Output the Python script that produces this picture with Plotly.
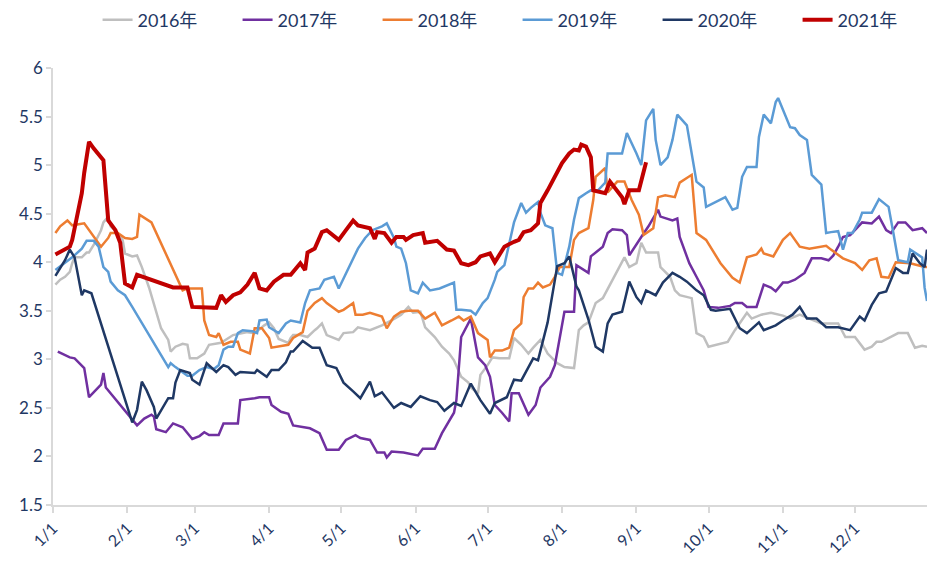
import pandas as pd
import plotly.graph_objects as go

# 日期以当年第几天表示（0 = 1/1）
d2016 = [1, 3, 5, 7, 8, 9, 12, 14, 15, 17, 20, 21, 23, 24, 27, 29, 30, 33, 35, 37, 40, 43, 45, 48, 49, 51, 54, 56, 57, 60,
         63, 65, 70, 75, 81, 84, 88, 90, 92, 94, 98, 99, 100, 103, 106, 109, 110, 112, 114, 119, 121, 125, 127, 132, 137, 141, 145, 148, 150, 153,
         155, 159, 162, 165, 167, 170, 173, 174, 177, 178, 181, 183, 186, 190, 192, 195, 198, 200, 203, 206, 210, 213, 217, 219, 221, 223, 226, 229, 233, 235,
         238, 240, 243, 245, 247, 252, 253, 257, 259, 261, 266, 268, 271, 273, 281, 284, 289, 291, 295, 299, 304, 307, 311, 315, 320, 327, 330, 334, 338, 341,
         343, 345, 349, 352, 356, 359, 362, 364]
v2016 = [3.77, 3.82, 3.85, 3.9, 3.99, 4.05, 4.05, 4.1, 4.1, 4.18, 4.33, 4.41, 4.47, 4.37, 4.3, 4.23, 4.09, 4.06, 4.07, 3.95, 3.74, 3.5, 3.32, 3.2, 3.08, 3.13, 3.16, 3.15, 3.01, 3.01,
         3.06, 3.15, 3.17, 3.25, 3.28, 3.27, 3.35, 3.38, 3.32, 3.21, 3.17, 3.22, 3.25, 3.25, 3.23, 3.3, 3.32, 3.37, 3.25, 3.2, 3.27, 3.28, 3.33, 3.3, 3.35, 3.4, 3.46, 3.54, 3.48, 3.49,
         3.33, 3.23, 3.13, 3.06, 2.99, 2.82, 2.76, 2.71, 2.65, 2.84, 2.94, 3.02, 3.01, 3.01, 3.22, 3.15, 3.06, 3.12, 3.2, 3.06, 2.96, 2.92, 2.91, 3.3, 3.35, 3.38, 3.58, 3.63, 3.82, 3.92,
         4.05, 3.95, 3.99, 4.2, 4.1, 4.1, 3.95, 3.85, 3.71, 3.66, 3.63, 3.27, 3.23, 3.13, 3.18, 3.3, 3.48, 3.42, 3.46, 3.48, 3.45, 3.42, 3.46, 3.42, 3.37, 3.37, 3.23, 3.23, 3.1, 3.13,
         3.18, 3.18, 3.23, 3.27, 3.27, 3.12, 3.14, 3.13]

d2017 = [2, 7, 9, 13, 15, 20, 21, 22, 35, 38, 41, 42, 43, 47, 50, 54, 58, 61, 63, 65, 69, 71, 77, 78, 84, 86, 90, 91, 95, 98,
         100, 104, 107, 111, 114, 119, 122, 126, 128, 132, 135, 138, 139, 141, 146, 152, 154, 159, 162, 167, 168, 170, 174, 177, 180, 182, 184, 187, 190, 191,
         194, 198, 201, 203, 207, 209, 213, 217, 218, 223, 224, 229, 231, 233, 237, 239, 240, 245, 248, 252, 253, 258, 260, 261, 265, 268, 271, 273, 277, 282,
         284, 287, 289, 293, 296, 299, 301, 304, 306, 309, 313, 316, 320, 323, 325, 327, 329, 332, 337, 341, 344, 347, 349, 352, 355, 358, 362, 364]
v2017 = [3.08, 3.02, 3.01, 2.91, 2.61, 2.74, 2.86, 2.71, 2.32, 2.39, 2.43, 2.41, 2.28, 2.25, 2.34, 2.3, 2.18, 2.21, 2.25, 2.22, 2.22, 2.34, 2.34, 2.58, 2.6, 2.61, 2.61, 2.53, 2.46, 2.44,
         2.32, 2.3, 2.29, 2.24, 2.07, 2.07, 2.17, 2.22, 2.19, 2.17, 2.04, 2.04, 1.99, 2.05, 2.04, 2.01, 2.08, 2.08, 2.24, 2.45, 2.58, 3.23, 3.42, 3.02, 2.94, 2.82, 2.53, 2.45, 2.36, 2.65,
         2.65, 2.43, 2.53, 2.71, 2.82, 2.94, 3.49, 3.49, 3.97, 3.89, 4.06, 4.16, 4.3, 4.34, 4.33, 4.28, 4.07, 4.26, 4.37, 4.54, 4.47, 4.43, 4.45, 4.26, 3.99, 3.85, 3.71, 3.54, 3.53, 3.55,
         3.58, 3.58, 3.54, 3.54, 3.77, 3.74, 3.7, 3.79, 3.79, 3.82, 3.89, 4.04, 4.04, 4.02, 4.07, 4.16, 4.26, 4.28, 4.41, 4.4, 4.47, 4.33, 4.3, 4.41, 4.41, 4.33, 4.35, 4.3]

d2018 = [1, 3, 6, 8, 13, 15, 20, 23, 24, 27, 30, 33, 35, 36, 41, 54, 56, 62, 63, 65, 68, 69, 71, 74, 77, 78, 82, 84, 87, 90,
         91, 98, 100, 104, 106, 109, 112, 114, 119, 121, 125, 126, 129, 132, 137, 139, 142, 145, 148, 152, 155, 159, 162, 166, 169, 171, 174, 177, 181, 182,
         184, 187, 190, 192, 195, 196, 198, 200, 202, 204, 207, 209, 211, 215, 217, 219, 223, 225, 226, 230, 231, 235, 238, 241, 244, 246, 250, 252, 255, 259,
         261, 266, 268, 272, 278, 283, 286, 289, 293, 295, 296, 300, 304, 307, 311, 315, 322, 324, 329, 334, 337, 340, 343, 345, 348, 351, 357, 363, 364]
v2018 = [4.3, 4.37, 4.43, 4.38, 4.4, 4.33, 4.16, 4.25, 4.3, 4.3, 4.25, 4.24, 4.26, 4.49, 4.41, 3.71, 3.73, 3.73, 3.4, 3.25, 3.23, 3.27, 3.15, 3.18, 3.18, 3.1, 3.06, 3.32, 3.32, 3.22,
         3.12, 3.15, 3.22, 3.28, 3.5, 3.58, 3.63, 3.58, 3.49, 3.51, 3.58, 3.46, 3.46, 3.48, 3.44, 3.32, 3.44, 3.49, 3.5, 3.5, 3.42, 3.48, 3.35, 3.4, 3.44, 3.4, 3.44, 3.27, 3.2, 3.02,
         3.09, 3.09, 3.12, 3.3, 3.37, 3.64, 3.73, 3.73, 3.79, 3.74, 3.77, 3.85, 3.95, 3.95, 4.23, 4.3, 4.35, 4.64, 4.88, 4.97, 4.72, 4.83, 4.83, 4.64, 4.49, 4.28, 4.35, 4.67, 4.69, 4.67,
         4.82, 4.9, 4.3, 4.23, 3.99, 3.84, 3.79, 4.05, 4.08, 4.14, 4.09, 4.06, 4.23, 4.3, 4.16, 4.14, 4.17, 4.13, 4.04, 3.99, 3.92, 4.02, 4.04, 3.85, 3.84, 4.0, 3.99, 3.95, 3.95]

d2019 = [1, 5, 8, 12, 14, 17, 19, 21, 23, 24, 27, 30, 33, 48, 49, 51, 56, 58, 61, 64, 67, 69, 71, 73, 75, 77, 79, 83, 85, 86,
         89, 90, 94, 97, 99, 103, 105, 107, 111, 113, 117, 119, 125, 127, 130, 133, 137, 139, 142, 143, 145, 147, 149, 152, 154, 157, 161, 167, 168, 170,
         174, 176, 179, 181, 184, 185, 188, 190, 192, 195, 197, 199, 202, 203, 205, 208, 210, 212, 215, 217, 219, 222, 224, 227, 230, 231, 237, 239, 241, 243,
         245, 247, 250, 251, 253, 256, 258, 260, 264, 266, 268, 271, 272, 280, 283, 285, 287, 289, 293, 294, 296, 299, 301, 302, 307, 309, 311, 314, 316, 320,
         322, 324, 327, 329, 331, 333, 336, 337, 341, 344, 348, 350, 352, 356, 357, 362, 363, 364]
v2019 = [3.92, 3.99, 4.05, 4.14, 4.22, 4.22, 4.16, 3.95, 3.9, 3.8, 3.71, 3.66, 3.54, 2.92, 2.96, 2.92, 2.83, 2.83, 2.89, 2.92, 2.9, 2.94, 3.1, 3.13, 3.13, 3.27, 3.3, 3.29, 3.27, 3.4,
         3.41, 3.33, 3.27, 3.37, 3.4, 3.38, 3.58, 3.71, 3.73, 3.82, 3.85, 3.73, 4.04, 4.14, 4.25, 4.33, 4.37, 4.4, 4.25, 4.16, 4.14, 3.99, 3.71, 3.68, 3.79, 3.71, 3.73, 3.79, 3.51, 3.51,
         3.5, 3.46, 3.58, 3.63, 3.82, 3.9, 3.97, 4.2, 4.41, 4.61, 4.51, 4.56, 4.62, 4.51, 4.38, 4.35, 3.89, 3.87, 4.16, 4.44, 4.66, 4.71, 4.74, 4.74, 4.82, 5.12, 5.12, 5.33, 5.23, 5.12,
         5.0, 5.46, 5.58, 5.26, 5.0, 5.08, 5.26, 5.52, 5.41, 5.12, 4.83, 4.77, 4.57, 4.67, 4.54, 4.56, 4.88, 4.98, 4.98, 5.29, 5.52, 5.43, 5.65, 5.69, 5.39, 5.38, 5.31, 5.26, 4.9, 4.8,
         4.3, 4.31, 4.32, 4.13, 4.3, 4.3, 4.44, 4.51, 4.51, 4.65, 4.57, 4.3, 4.02, 4.0, 4.13, 4.05, 3.74, 3.6]

d2020 = [1, 5, 7, 9, 12, 13, 16, 33, 35, 37, 39, 42, 43, 48, 50, 51, 53, 57, 58, 61, 64, 68, 71, 73, 76, 78, 84, 85, 89, 91,
         94, 97, 99, 100, 104, 108, 111, 114, 118, 121, 125, 128, 132, 134, 137, 142, 145, 149, 153, 157, 160, 163, 167, 170, 174, 178, 182, 184, 189, 192,
         195, 200, 202, 206, 210, 213, 215, 218, 219, 223, 226, 229, 231, 233, 237, 240, 243, 245, 247, 251, 254, 258, 261, 264, 268, 271, 274, 276, 282, 286,
         289, 294, 296, 301, 304, 308, 311, 314, 318, 322, 327, 332, 336, 338, 341, 344, 347, 351, 354, 356, 358, 361, 363, 364]
v2020 = [3.86, 4.02, 4.13, 4.05, 3.66, 3.71, 3.68, 2.35, 2.48, 2.77, 2.68, 2.51, 2.39, 2.6, 2.6, 2.76, 2.89, 2.86, 2.79, 2.74, 2.96, 2.87, 2.94, 2.92, 2.84, 2.87, 2.86, 2.89, 2.82, 2.89,
         2.89, 2.97, 3.08, 3.08, 3.19, 3.12, 3.12, 2.94, 2.91, 2.76, 2.67, 2.6, 2.77, 2.62, 2.66, 2.5, 2.55, 2.51, 2.62, 2.58, 2.56, 2.47, 2.55, 2.52, 2.75, 2.58, 2.44, 2.55, 2.61, 2.79,
         2.78, 3.01, 2.99, 3.38, 3.96, 3.99, 4.06, 3.75, 3.71, 3.41, 3.13, 3.08, 3.37, 3.46, 3.49, 3.8, 3.64, 3.58, 3.71, 3.66, 3.79, 3.89, 3.85, 3.8, 3.71, 3.66, 3.51, 3.5, 3.52, 3.32,
         3.27, 3.38, 3.3, 3.35, 3.4, 3.46, 3.54, 3.42, 3.42, 3.33, 3.33, 3.3, 3.44, 3.4, 3.56, 3.68, 3.7, 3.94, 3.89, 3.89, 4.09, 3.99, 3.95, 4.13]

d2021 = [1, 7, 8, 10, 12, 13, 15, 17, 20, 21, 23, 26, 28, 30, 33, 35, 50, 56, 58, 63, 68, 70, 72, 75, 78, 81, 84, 86, 89, 92,
         96, 99, 103, 105, 106, 109, 112, 114, 119, 122, 125, 127, 132, 134, 135, 138, 141, 143, 146, 147, 150, 154, 155, 160, 164, 167, 170, 173, 176, 178,
         182, 184, 188, 192, 194, 196, 199, 202, 203, 206, 210, 212, 215, 217, 219, 220, 222, 224, 225, 228, 230, 232, 234, 237, 238, 240, 244, 245, 247]
v2021 = [4.08, 4.16, 4.23, 4.47, 4.71, 4.92, 5.24, 5.17, 5.08, 5.05, 4.43, 4.33, 4.2, 3.78, 3.74, 3.87, 3.74, 3.74, 3.54, 3.53, 3.53, 3.66, 3.59, 3.66, 3.69, 3.77, 3.89, 3.73, 3.71, 3.8,
         3.87, 3.87, 3.99, 3.92, 4.1, 4.14, 4.31, 4.33, 4.23, 4.33, 4.43, 4.38, 4.35, 4.24, 4.31, 4.3, 4.2, 4.26, 4.26, 4.23, 4.28, 4.3, 4.2, 4.22, 4.13, 4.12, 3.99, 3.97, 4.0, 4.06,
         4.09, 4.0, 4.16, 4.21, 4.23, 4.31, 4.33, 4.4, 4.61, 4.74, 4.92, 5.02, 5.12, 5.16, 5.15, 5.21, 5.19, 5.08, 4.74, 4.72, 4.71, 4.83, 4.76, 4.67, 4.6, 4.74, 4.74, 4.83, 5.03]

month_ticks = ['1/1', '2/1', '3/1', '4/1', '5/1', '6/1', '7/1', '8/1', '9/1', '10/1', '11/1', '12/1']

series = [
    ('2016年', d2016, v2016, '#BFBFBF', 2.5),
    ('2017年', d2017, v2017, '#7030A0', 2.5),
    ('2018年', d2018, v2018, '#ED7D31', 2.5),
    ('2019年', d2019, v2019, '#5B9BD5', 2.5),
    ('2020年', d2020, v2020, '#1F3864', 2.5),
    ('2021年', d2021, v2021, '#C00000', 4),
]

base = pd.Timestamp('2021-01-01')
TXT = '#1F3864'
AX = '#D9D9D9'
FONT = 'Lato, Noto Sans CJK SC, sans-serif'

fig = go.Figure()
for name, days, vals, color, w in series:
    fig.add_trace(go.Scatter(
        x=base + pd.to_timedelta(days, unit='D'), y=vals, name=name, mode='lines',
        line=dict(color=color, width=w),
    ))

tickvals = pd.date_range('2021-01-01', periods=12, freq='MS')

fig.update_layout(
    width=927, height=563,
    margin=dict(l=53, r=0, t=68, b=58, autoexpand=False),
    paper_bgcolor='white', plot_bgcolor='white',
    font=dict(family=FONT, color=TXT, size=16),
    showlegend=True,
    legend=dict(orientation='h', x=0.051, y=1.11, xanchor='left', yanchor='middle',
                entrywidth=95, entrywidthmode='pixels', font=dict(size=18, color=TXT),
                itemwidth=30, bgcolor='rgba(0,0,0,0)'),
    xaxis=dict(
        type='date', range=['2021-01-01', '2021-12-31'], automargin=False,
        tickvals=tickvals, ticktext=month_ticks, tickangle=-45,
        showgrid=False, zeroline=False, showline=True, linecolor=AX, linewidth=1.5,
        ticks='outside', ticklen=6, tickcolor=AX, tickwidth=1.5,
        tickfont=dict(size=16, color=TXT),
    ),
    yaxis=dict(
        range=[1.5, 6], dtick=0.5, showgrid=False, zeroline=False, automargin=False,
        showline=True, linecolor=AX, linewidth=1.5,
        ticks='outside', ticklen=5, tickcolor=AX, tickwidth=1.5,
        tickfont=dict(size=17, color=TXT),
    ),
)

# 去掉页面 body 默认的 8px 边距，让图正好占满窗口；隐藏工具栏
fig.write_html('out.html', config={'displayModeBar': False},
               post_script="document.body.style.margin='0';")
